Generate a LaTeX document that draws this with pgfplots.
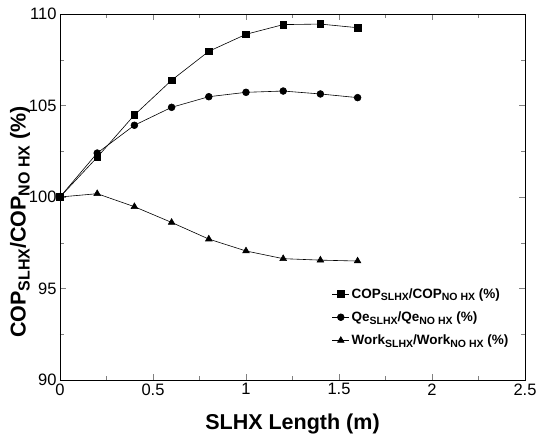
\documentclass[border=0pt]{standalone}
\usepackage{fontspec}
\setmainfont{Liberation Sans}
\usepackage{pgfplots}
\pgfplotsset{compat=1.18}
\newcommand{\subY}[1]{\raisebox{-0.35ex}{\fontsize{16}{18}\selectfont #1}}
\newcommand{\subL}[1]{\raisebox{-0.4ex}{\fontsize{10.5}{12}\selectfont #1}}
\begin{document}
\begin{tikzpicture}
\begin{axis}[
  scale only axis,
  width=465pt, height=366pt,
  xmin=0, xmax=2.5, ymin=90, ymax=110,
  xtick={0,0.5,1,1.5,2,2.5},
  ytick={90,95,100,105,110},
  minor x tick num=1, minor y tick num=1,
  tick align=inside,
  major tick length=6pt, minor tick length=4pt,
  xtick pos=both, ytick pos=both,
  /pgf/number format/assume math mode=true,
  tick label style={font=\fontsize{16.5}{19}\selectfont},
  xlabel={SLHX Length (m)},
  ylabel={COP\subY{SLHX}/COP\subY{NO HX} (\%)},
  label style={font=\fontsize{21.5}{25}\selectfont\bfseries},
  xlabel style={yshift=-12pt},
  ylabel style={yshift=-8pt, xshift=-25pt},
  legend style={draw=none, fill=none, at={(0.578,0.262)}, anchor=north west,
     font=\fontsize{13.5}{16}\selectfont\bfseries, row sep=8pt},
  legend cell align=left,
  every axis plot/.append style={black, line width=0.6pt},
]
\addplot[mark=square*, mark size=3.3pt] coordinates {
(0,100) (0.2,102.17) (0.4,104.48) (0.6,106.38) (0.8,107.96) (1.0,108.89) (1.2,109.42) (1.4,109.45) (1.6,109.25)};
\addlegendentry{COP\subL{SLHX}/COP\subL{NO HX} (\%)}
\addplot[mark=*, mark size=3.4pt] coordinates {
(0,100) (0.2,102.4) (0.4,103.92) (0.6,104.9) (0.8,105.48) (1.0,105.72) (1.2,105.79) (1.4,105.63) (1.6,105.43)};
\addlegendentry{Qe\subL{SLHX}/Qe\subL{NO HX} (\%)}
\addplot[mark=triangle*, mark size=3.8pt] coordinates {
(0,100) (0.2,100.18) (0.4,99.47) (0.6,98.61) (0.8,97.70) (1.0,97.05) (1.2,96.63) (1.4,96.55) (1.6,96.5)};
\addlegendentry{Work\subL{SLHX}/Work\subL{NO HX} (\%)}
\end{axis}
\path (current axis.south west) ++(-60pt,-57pt) rectangle ++(544pt,437pt);
\end{tikzpicture}
\end{document}
